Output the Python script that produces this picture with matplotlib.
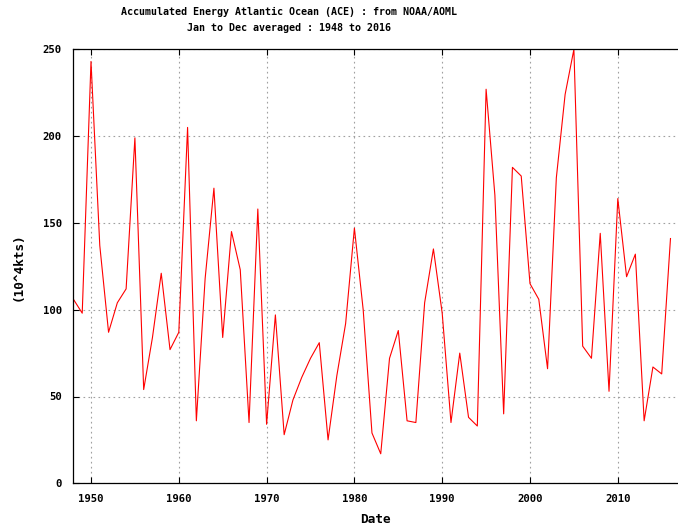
import matplotlib
matplotlib.use("Agg")
import matplotlib.pyplot as plt

years = list(range(1948, 2017))
ace = [106, 98, 243, 137, 87, 104, 112, 199, 54, 84,
       121, 77, 87, 205, 36, 118, 170, 84, 145, 123,
       35, 158, 34, 97, 28, 48, 61, 72, 81, 25,
       62, 92, 147, 100, 29, 17, 72, 88, 36, 35,
       104, 135, 98, 35, 75, 38, 33, 227, 166, 40,
       182, 177, 115, 106, 66, 176, 224, 250, 79, 72,
       144, 53, 164, 119, 132, 36, 67, 63, 141]

title = "Accumulated Energy Atlantic Ocean (ACE) : from NOAA/AOML\nJan to Dec averaged : 1948 to 2016"
xticks = [1950, 1960, 1970, 1980, 1990, 2000, 2010]
yticks = [0, 50, 100, 150, 200, 250]

mono = "DejaVu Sans Mono"
tfont = dict(family=mono, weight="bold", size=7.2)
kfont = dict(family=mono, weight="bold", size=7.7)
lfont = dict(family=mono, weight="bold", size=9.2)

fig = plt.figure(figsize=(6.78, 5.27), dpi=100)
ax = fig.add_axes([73/678, 43.7/527, 1 - 73/678, (483.3 - 49.3)/527])
ax.plot(years, ace, color="#ff0000", lw=0.8)
ax.set_xlim(1947.95, 1947.95 + 605/8.78)
ax.set_ylim(0, 250)
ax.set_xticks(xticks)
ax.set_yticks(yticks)
ax.set_xticklabels([str(t) for t in xticks], fontdict=kfont)
ax.set_yticklabels([str(t) for t in yticks], fontdict=kfont)
ax.tick_params(axis="x", direction="in", length=4, width=0.8, top=True, pad=8)
ax.tick_params(axis="y", direction="in", length=4, width=0.8, right=False, pad=8)
ax.grid(True, color="#a0a0a0", linestyle=(0, (1.5, 3)), lw=0.8)
for s in ax.spines.values():
    s.set_linewidth(0.9)
ax.spines["right"].set_visible(False)
ax.set_xlabel("Date", fontdict=lfont, labelpad=6)
ax.set_ylabel("(10^4kts)", fontdict=lfont, labelpad=13)
fig.text(0.5 * (120 + 458) / 678, 1 - 7/527, title, ha="center", va="top",
         linespacing=1.7, **tfont)
fig.savefig("out.png", dpi=100)
